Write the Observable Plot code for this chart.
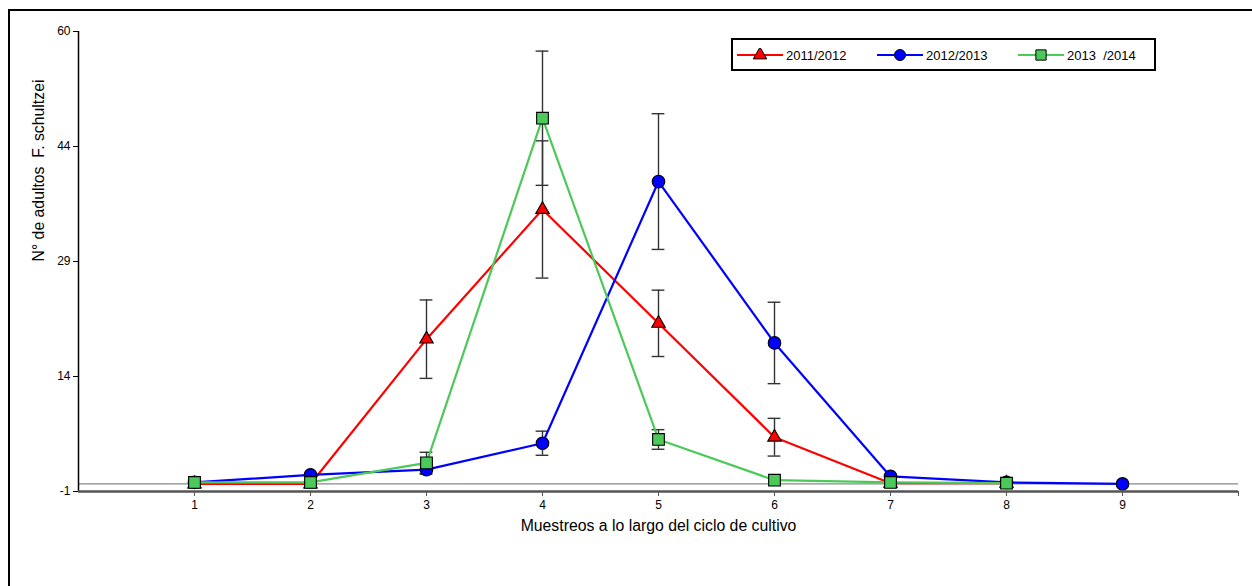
<!DOCTYPE html>
<html>
<head>
<meta charset="utf-8">
<script src="https://cdn.jsdelivr.net/npm/d3@7"></script>
<script src="https://cdn.jsdelivr.net/npm/@observablehq/plot@0.6"></script>
<style>
  html, body { margin: 0; padding: 0; background: #fff; }
  #wrap { position: relative; width: 1252px; height: 586px; overflow: hidden; font-family: "Liberation Sans", Arial, sans-serif; }
  #border { position: absolute; left: 8px; top: 9px; width: 1400px; height: 800px; border: 2px solid #000; box-sizing: border-box; pointer-events: none; }
  #legend { position: absolute; left: 731px; top: 38px; width: 425px; height: 33px; border: 2px solid #000; box-sizing: border-box; background: #fff; }
  .item { position: absolute; top: 6px; height: 18px; display: flex; align-items: center; font-size: 13px; white-space: pre; color: #000; }
  .item svg { margin-right: 3px; }
</style>
</head>
<body>
<div id="wrap"><div id="border"></div></div>
<script>
// ---- data ----
const samples = [1, 2, 3, 4, 5, 6, 7, 8, 9];
const seriesNames = ["2011/2012", "2012/2013", "2013  /2014"];
const seriesColors = ["#ff0000", "#0000ff", "#4cc95a"];
const seriesSymbols = ["triangle", "circle", "square"];

const values2011 = [0.0, 0.0, 19.2, 36.4, 21.3, 6.2, 0.1, 0.1];
const se2011     = [0,   0,   5.2,  9.1,  4.4,  2.5, 0,   0];
const values2012 = [0.2, 1.2, 1.9, 5.4, 40.1, 18.7, 1.0, 0.2, 0.0];
const se2012     = [0,   0,   0.6, 1.6, 9.0,  5.4,  0,   0,   0];
const values2013 = [0.2, 0.2, 2.8, 48.5, 5.9, 0.5, 0.2, 0.1];
const se2013     = [0,   0,   1.4, 8.9,  1.3, 0,   0,   0];

const yTicks = [-1, 14.25, 29.5, 44.75, 60];
const yTickLabels = ["-1", "14", "29", "44", "60"];
const xTicks = [1, 2, 3, 4, 5, 6, 7, 8, 9, 10];
const xTickLabels = ["1", "2", "3", "4", "5", "6", "7", "8", "9", ""];
const xLabel = "Muestreos a lo largo del ciclo de cultivo";
const yLabel = "N° de adultos  F. schultzei";

// ---- build rows ----
const allValues = [values2011, values2012, values2013];
const allSE = [se2011, se2012, se2013];
const rows = [];
allValues.forEach((vals, s) => {
  vals.forEach((v, i) => rows.push({x: samples[i], y: v, se: allSE[s][i], series: seriesNames[s], s}));
});
const errRows = rows.filter(d => d.se > 0);

const seriesMarks = [];
seriesNames.forEach((name, s) => {
  const err = errRows.filter(d => d.s === s);
  seriesMarks.push(
    Plot.ruleX(err, {x: "x", y1: d => d.y - d.se, y2: d => d.y + d.se, stroke: "#333", strokeWidth: 1.4}),
    Plot.ruleY(err, {y: d => d.y + d.se, x1: d => d.x - 0.055, x2: d => d.x + 0.055, stroke: "#333", strokeWidth: 1.4}),
    Plot.ruleY(err, {y: d => d.y - d.se, x1: d => d.x - 0.055, x2: d => d.x + 0.055, stroke: "#333", strokeWidth: 1.4})
  );
});
seriesNames.forEach((name, s) => {
  const data = rows.filter(d => d.s === s);
  seriesMarks.push(
    Plot.line(data, {x: "x", y: "y", stroke: seriesColors[s], strokeWidth: 2.2}),
    Plot.dot(data, {x: "x", y: "y", symbol: seriesSymbols[s], r: s === 0 ? 5 : (s === 1 ? 6.3 : 6.6), fill: seriesColors[s], stroke: "#000", strokeWidth: 1.1})
  );
});

const chart = Plot.plot({
  width: 1252,
  height: 586,
  marginLeft: 78,
  marginRight: 14,
  marginTop: 31,
  marginBottom: 95,
  x: {domain: [0, 10]},
  y: {domain: [-1, 60]},
  style: {fontFamily: "'Liberation Sans', Arial, sans-serif", background: "transparent", overflow: "visible"},
  marks: [
    Plot.ruleY([0], {stroke: "#888", strokeWidth: 1.2}),
    ...seriesMarks,
    Plot.ruleX([0], {stroke: "#000", strokeWidth: 1.5}),
    Plot.ruleY([-1], {stroke: "#555", strokeWidth: 2.5}),
    Plot.axisY(yTicks, {tickSize: 5, tickPadding: 3, stroke: "#000", fill: "#000", label: null,
      tickFormat: d => yTickLabels[yTicks.indexOf(d)]}),
    Plot.axisX(xTicks, {tickSize: 5, tickPadding: 4, stroke: "#555", fill: "#000", label: null,
      tickFormat: d => xTickLabels[xTicks.indexOf(d)]}),
    Plot.text([xLabel], {frameAnchor: "bottom", dy: 39, text: d => d, fill: "#000"}),
    Plot.text([yLabel], {frameAnchor: "left", dx: -40, rotate: -90, text: d => d, fill: "#000"})
  ]
});
d3.select(chart).selectAll("text").each(function() {
  const t = this.textContent;
  if (t === xLabel || t === yLabel) d3.select(this).style("font-size", "15.8px");
  else d3.select(this).style("font-size", "12px");
});
const wrap = document.getElementById("wrap");
wrap.insertBefore(chart, wrap.firstChild);

// ---- legend ----
const legend = document.createElement("div");
legend.id = "legend";
const itemLefts = [4, 144, 285];
seriesNames.forEach((name, s) => {
  const item = document.createElement("div");
  item.className = "item";
  item.style.left = itemLefts[s] + "px";
  const sw = d3.create("svg").attr("width", 46).attr("height", 14);
  sw.append("line").attr("x1", 0).attr("x2", 46).attr("y1", 7).attr("y2", 7)
    .attr("stroke", seriesColors[s]).attr("stroke-width", 2.2);
  const sym = {triangle: d3.symbolTriangle, circle: d3.symbolCircle, square: d3.symbolSquare}[seriesSymbols[s]];
  const r = s === 0 ? 5 : (s === 1 ? 5.5 : 5.8);
  sw.append("path").attr("d", d3.symbol(sym, Math.PI * r * r)())
    .attr("transform", "translate(23,7)")
    .attr("fill", seriesColors[s]).attr("stroke", "#000").attr("stroke-width", 1);
  item.appendChild(sw.node());
  const t = document.createElement("span");
  t.textContent = name;
  item.appendChild(t);
  legend.appendChild(item);
});
wrap.appendChild(legend);
</script>
</body>
</html>
